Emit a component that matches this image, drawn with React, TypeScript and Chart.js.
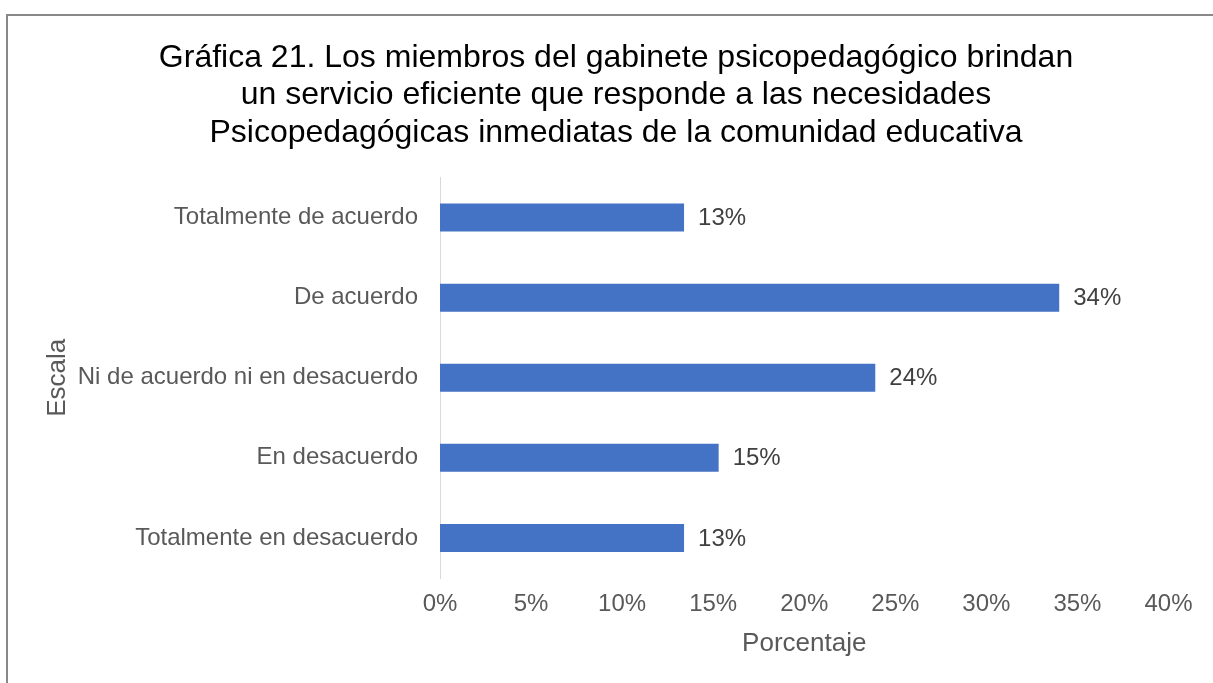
import React, { useEffect, useRef } from "react";
import { Chart, registerables } from "chart.js";

Chart.register(...registerables);

const titleLines = [
  "Gráfica 21. Los miembros del gabinete psicopedagógico brindan",
  "un servicio eficiente que responde a las necesidades",
  "Psicopedagógicas inmediatas de la comunidad educativa",
];
const categories = [
  "Totalmente de acuerdo",
  "De acuerdo",
  "Ni de acuerdo ni en desacuerdo",
  "En desacuerdo",
  "Totalmente en desacuerdo",
];
const values = [13.4, 34.0, 23.9, 15.3, 13.4];
const xTicks = [0, 5, 10, 15, 20, 25, 30, 35, 40];
const xTitle = "Porcentaje";
const yTitle = "Escala";

const FONT = "'Liberation Sans', Arial, sans-serif";

const frame = {
  id: "frame",
  beforeDraw(chart: any) {
    const ctx = chart.ctx;
    ctx.save();
    ctx.fillStyle = "#ffffff";
    ctx.fillRect(0, 0, chart.width, chart.height);
    ctx.fillStyle = "#898989";
    ctx.fillRect(6, 14, 2, chart.height);
    ctx.fillRect(6, 14, chart.width, 2);
    ctx.restore();
  },
};

const valueLabels = {
  id: "valueLabels",
  afterDatasetsDraw(chart: any) {
    const ctx = chart.ctx;
    const meta = chart.getDatasetMeta(0);
    ctx.save();
    ctx.font = `24px ${FONT}`;
    ctx.fillStyle = "#404040";
    ctx.textAlign = "left";
    ctx.textBaseline = "middle";
    meta.data.forEach((bar: any, i: number) => {
      ctx.fillText(Math.round(values[i]) + "%", bar.x + 14, bar.y + 1);
    });
    ctx.restore();
  },
};

export default function App() {
  const ref = useRef<HTMLCanvasElement | null>(null);
  useEffect(() => {
    if (!ref.current) return;
    const chart = new Chart(ref.current, {
      type: "bar",
      data: {
        labels: categories,
        datasets: [
          {
            data: values,
            backgroundColor: "#4472C4",
            borderWidth: 0,
            barPercentage: 1,
            categoryPercentage: 0.35,
          },
        ],
      },
      options: {
        indexAxis: "y",
        responsive: false,
        animation: false,
        layout: { padding: { left: 20, right: 1, top: 0, bottom: 0 } },
        plugins: {
          legend: { display: false },
          tooltip: { enabled: false },
          title: {
            display: true,
            text: titleLines,
            color: "#000000",
            font: { family: FONT, size: 32, weight: "normal", lineHeight: 1.172 },
            padding: { top: 39, bottom: 26 },
          },
        },
        scales: {
          x: {
            min: 0,
            max: 40,
            afterBuildTicks: (scale: any) => {
              scale.ticks = xTicks.map((v) => ({ value: v }));
            },
            afterFit: (scale: any) => {
              scale.height = 105;
              scale.paddingRight = 44.5;
            },
            grid: { display: false, drawTicks: false, tickLength: 0 },
            border: { display: false },
            ticks: {
              padding: 12,
              color: "#595959",
              font: { family: FONT, size: 24 },
              callback: (v: any) => v + "%",
            },
            title: {
              display: true,
              text: xTitle,
              color: "#595959",
              font: { family: FONT, size: 26 },
              padding: { top: 0, bottom: 24 },
            },
          },
          y: {
            afterFit: (scale: any) => {
              scale.width = 420;
            },
            grid: { display: false, drawTicks: false, tickLength: 0 },
            border: { display: true, color: "#d9d9d9", width: 1 },
            ticks: {
              padding: 22,
              color: "#595959",
              font: { family: FONT, size: 24 },
            },
            title: {
              display: true,
              text: yTitle,
              color: "#595959",
              font: { family: FONT, size: 26 },
              padding: { top: 22, bottom: 0 },
            },
          },
        },
      },
      plugins: [frame, valueLabels],
    });
    return () => chart.destroy();
  }, []);
  return (
    <div style={{ position: "fixed", left: 0, top: 0, width: 1213, height: 683 }}>
      <canvas ref={ref} width={1213} height={683} />
    </div>
  );
}
